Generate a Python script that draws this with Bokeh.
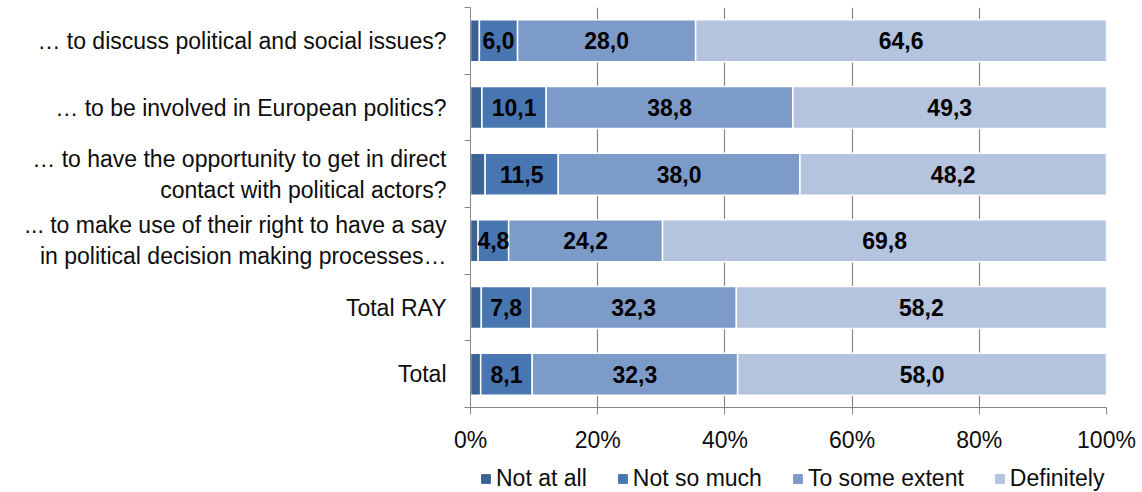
from bokeh.plotting import figure
from bokeh.models import ColumnDataSource, FixedTicker, Legend, LegendItem, Range1d
from bokeh.layouts import column
from bokeh.core.properties import value
from bokeh.embed import file_html
from bokeh.resources import INLINE

categories = [
    "\u2026 to discuss political and social issues?",
    "\u2026 to be involved in European politics?",
    "\u2026 to have the opportunity to get in direct\ncontact with political actors?",
    "... to make use of their right to have a say\nin political decision making processes\u2026",
    "Total RAY",
    "Total",
]
series = ["Not at all", "Not so much", "To some extent", "Definitely"]
not_at_all = [1.4, 1.8, 2.3, 1.2, 1.7, 1.6]
not_so_much = [6.0, 10.1, 11.5, 4.8, 7.8, 8.1]
some_extent = [28.0, 38.8, 38.0, 24.2, 32.3, 32.3]
definitely = [64.6, 49.3, 48.2, 69.8, 58.2, 58.0]
x_ticks = [0, 20, 40, 60, 80, 100]

colors = ["#3b6396", "#4776b1", "#7d9bc8", "#b4c3de"]
FONT = "Liberation Sans"
FS = "23px"

n = len(categories)
ypos = [n - 0.5 - i for i in range(n)]
src = ColumnDataSource(dict(y=ypos, a=not_at_all, b=not_so_much, c=some_extent, d=definitely))

p = figure(width=1142, height=460, output_backend="svg", toolbar_location=None,
           x_range=Range1d(0, 100), y_range=Range1d(0, n),
           min_border_left=470, min_border_right=36, min_border_top=7, min_border_bottom=53)
p.outline_line_color = None

renderers = p.hbar_stack(["a", "b", "c", "d"], y="y", height=0.63, color=colors,
                         line_color="white", line_width=1.5, source=src)

# bar labels
lx, ly, lt = [], [], []
for i in range(n):
    vals = [not_at_all[i], not_so_much[i], some_extent[i], definitely[i]]
    start = 0.0
    for j, v in enumerate(vals):
        if j > 0:
            lx.append(start + v / 2)
            ly.append(ypos[i])
            lt.append(f"{v:.1f}".replace(".", ","))
        start += v
p.text(x=lx, y=ly, text=lt, text_align="center", text_baseline="middle",
       text_font=value(FONT), text_font_style="bold", text_font_size=FS, text_color="black")

# axes
p.xaxis.ticker = FixedTicker(ticks=x_ticks)
p.xaxis.major_label_overrides = {t: f"{t}%" for t in x_ticks}
p.xaxis.major_label_text_font = FONT
p.xaxis.major_label_text_font_size = FS
p.xaxis.major_label_text_color = "#0d0d0d"
p.xaxis.major_tick_out = 7
p.xaxis.major_tick_in = 0
p.xaxis.minor_tick_line_color = None
p.xaxis.axis_line_color = "#868686"
p.xaxis.major_tick_line_color = "#868686"
p.xaxis.major_label_standoff = 12

# y axis: labels at category centres, tick marks at category boundaries (minor ticks)
p.yaxis.ticker = FixedTicker(ticks=ypos, minor_ticks=list(range(n + 1)))
p.yaxis.major_label_overrides = {y: c for y, c in zip(ypos, categories)}
p.yaxis.major_label_text_font = FONT
p.yaxis.major_label_text_font_size = FS
p.yaxis.major_label_text_color = "#0d0d0d"
p.yaxis.major_label_text_line_height = 1.2
p.yaxis.major_label_standoff = 18
p.yaxis.major_tick_line_color = None
p.yaxis.major_tick_out = 0
p.yaxis.major_tick_in = 0
p.yaxis.minor_tick_out = 6
p.yaxis.minor_tick_in = 0
p.yaxis.minor_tick_line_color = "#868686"
p.yaxis.axis_line_color = "#868686"

p.xgrid.ticker = FixedTicker(ticks=x_ticks)
p.xgrid.grid_line_color = "#868686"
p.xgrid.grid_line_width = 1.2
p.ygrid.grid_line_color = None

# legend in its own strip below the chart (frame aligned with the chart's frame)
q = figure(width=1142, height=32, output_backend="svg", toolbar_location=None,
           x_range=Range1d(0, 1), y_range=Range1d(0, 1),
           min_border_left=0, min_border_right=0, min_border_top=0, min_border_bottom=0)
q.axis.visible = False
q.grid.grid_line_color = None
q.outline_line_color = None
items = []
for s, c in zip(series, colors):
    # legend proxy: one bar lying outside the strip's visible range
    r = q.hbar(y=[-5], left=[0], right=[1], height=0.5, fill_color=c, line_color=c)
    items.append(LegendItem(label=s, renderers=[r]))
legend = Legend(items=items, orientation="horizontal", location=(10, 0))
legend.label_text_font = FONT
legend.label_text_font_size = FS
legend.label_text_color = "#0d0d0d"
legend.glyph_width = 11
legend.glyph_height = 11
legend.label_height = 24
legend.label_standoff = 5
legend.spacing = 30
legend.border_line_color = None
legend.background_fill_alpha = 0
legend.padding = 0
legend.margin = 0
q.add_layout(legend, "center")

layout = column(p, q, spacing=0)
open("out.html", "w").write(file_html(layout, INLINE))
